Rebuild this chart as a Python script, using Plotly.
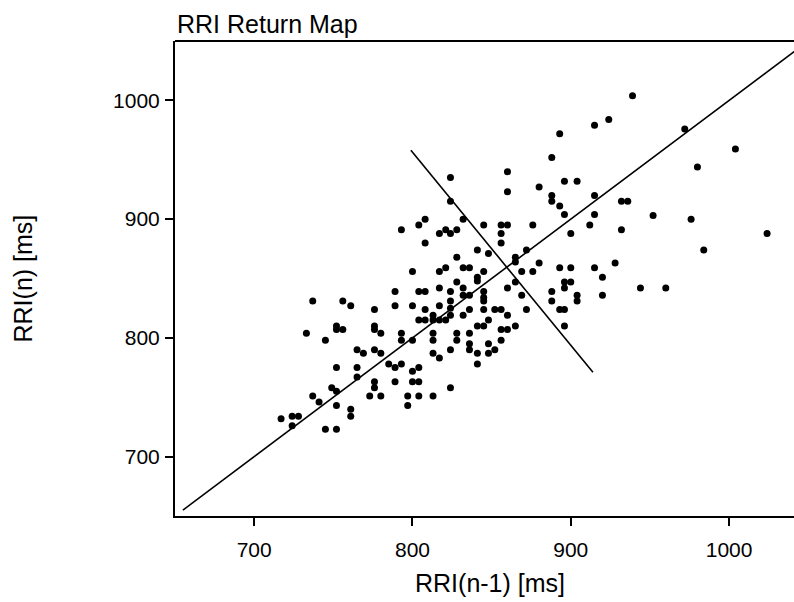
import plotly.graph_objects as go

# RRI(n-1) [ms] and RRI(n) [ms] values
rri_prev = [737, 756, 761, 776, 733, 745, 752, 752, 756, 776, 776, 780, 765, 769, 776, 780, 785, 752, 765, 765,
            749, 752, 737, 741, 776, 776, 773, 780, 752, 761, 761, 717, 724, 728, 724, 745, 752,
            860, 824, 860, 880, 896, 904, 888, 888, 893, 915, 896, 915, 912, 900, 824, 832, 845, 856, 860, 856,
            876, 793, 804, 808, 817, 821, 824, 828, 808, 856, 841, 848, 872, 828, 865, 865, 800, 817, 821, 832,
            836, 845, 841, 841, 869, 876, 880, 893, 900, 915, 789, 789, 800, 804, 808, 817, 828, 832, 824, 824,
            824, 817, 808, 832, 836, 845, 845, 845, 845, 860, 865, 869, 872, 888, 888, 896, 900, 896, 904, 904,
            893, 896, 896, 804, 808, 813, 813, 817, 821, 824, 832, 836, 848, 852, 856, 860, 841, 845, 856, 860,
            865, 793, 793, 800, 813, 813, 828, 828, 836, 836, 836, 824, 813, 817, 841, 848, 852, 848, 856,
            841, 789, 793, 800, 804, 800, 804, 789, 824, 797, 797, 804, 813,
            939, 915, 924, 893, 972, 1004, 980, 888, 932, 936, 932, 952, 976, 1024, 984, 928, 920, 920, 944, 960]
rri_next = [831, 831, 827, 824, 804, 798, 810, 807, 807, 810, 807, 804, 790, 787, 790, 787, 778, 775, 775, 767,
            758, 755, 751, 746, 763, 758, 751, 751, 743, 740, 734, 732, 734, 734, 726, 723, 723,
            940, 935, 923, 927, 932, 932, 920, 915, 911, 920, 904, 904, 895, 888, 915, 900, 895, 895, 895, 888,
            895, 891, 895, 900, 888, 891, 888, 891, 880, 880, 874, 871, 874, 868, 868, 864, 856, 856, 859, 859,
            859, 856, 851, 848, 856, 856, 863, 859, 859, 859, 839, 827, 827, 839, 839, 842, 847, 842, 839, 831,
            825, 827, 824, 836, 836, 839, 834, 831, 824, 842, 847, 836, 824, 839, 831, 847, 847, 842, 836, 831,
            824, 824, 810, 815, 815, 819, 815, 815, 815, 819, 819, 824, 815, 824, 824, 819, 810, 810, 807, 807,
            810, 804, 798, 798, 804, 798, 804, 798, 804, 795, 790, 790, 787, 783, 787, 795, 790, 787, 798,
            778, 775, 778, 772, 775, 763, 763, 763, 758, 751, 743, 751, 751,
            1004, 979, 984, 972, 976, 959, 944, 952, 915, 915, 891, 903, 900, 888, 874, 863, 851, 836, 842, 842]

identity_line = [655, 1048]
perp_x = [799, 914]
perp_y = [958, 771]

x_range = [650, 1041]
y_range = [650, 1050]
x_ticks = [700, 800, 900, 1000]
y_ticks = [700, 800, 900, 1000]

FONT = "Liberation Sans, Arial, sans-serif"

fig = go.Figure()
fig.add_trace(go.Scatter(x=identity_line, y=identity_line, mode="lines",
                         line=dict(color="black", width=1.6), hoverinfo="skip"))
fig.add_trace(go.Scatter(x=perp_x, y=perp_y, mode="lines",
                         line=dict(color="black", width=1.6), hoverinfo="skip"))
fig.add_trace(go.Scatter(x=rri_prev, y=rri_next, mode="markers",
                         marker=dict(color="black", size=7, line=dict(width=0))))

axis_common = dict(showline=True, linecolor="black", linewidth=2, ticks="outside", ticklen=8,
                   tickwidth=1.5, tickcolor="black", showgrid=False, zeroline=False,
                   tickfont=dict(family=FONT, size=21, color="black"))

fig.update_layout(
    width=794, height=602,
    margin=dict(l=175, r=0, t=41, b=86),
    paper_bgcolor="white", plot_bgcolor="white",
    showlegend=False,
    xaxis=dict(range=x_range, tickvals=x_ticks, ticklabelstandoff=6, **axis_common),
    yaxis=dict(range=y_range, tickvals=y_ticks, ticklabelstandoff=1, **axis_common),
    shapes=[dict(type="line", xref="paper", yref="paper", x0=0, x1=1, y0=1, y1=1,
                 line=dict(color="black", width=2))],
    annotations=[
        dict(text="RRI Return Map", xref="paper", yref="paper", x=0, y=1, xanchor="left",
             yanchor="middle", yshift=17, showarrow=False, font=dict(family=FONT, size=25, color="black")),
        dict(text="RRI(n-1) [ms]", xref="paper", yref="paper", x=(490 - 175) / 619, y=0, xanchor="center",
             yanchor="middle", yshift=-67, showarrow=False, font=dict(family=FONT, size=25, color="black")),
        dict(text="RRI(n) [ms]", xref="paper", yref="paper", x=0, y=0.5, xanchor="center",
             yanchor="middle", xshift=-153, textangle=-90, showarrow=False,
             font=dict(family=FONT, size=25, color="black")),
    ],
)

fig.write_html("out.html")
